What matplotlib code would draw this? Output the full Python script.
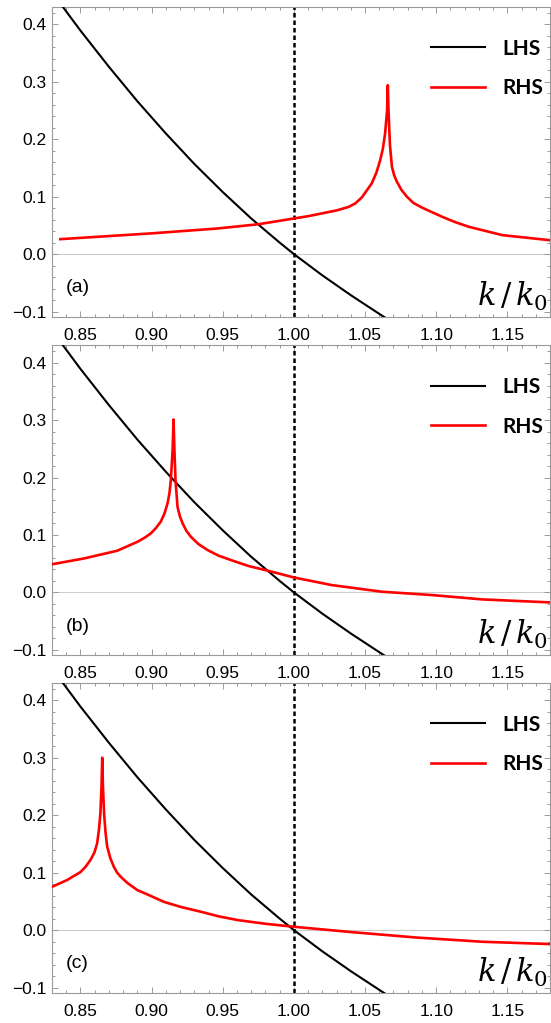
import matplotlib
matplotlib.use("Agg")
import matplotlib.pyplot as plt
from matplotlib.ticker import MultipleLocator, FuncFormatter
from matplotlib.font_manager import FontProperties

plt.rcParams["font.family"] = ["Liberation Sans", "DejaVu Sans"]
plt.rcParams["mathtext.fontset"] = "dejavuserif"

# LHS curve (same in all panels)
lhs_k = [0.8377, 0.85, 0.87, 0.89, 0.91, 0.93, 0.95, 0.97, 0.99, 1.00, 1.02, 1.04, 1.06, 1.065]
lhs_val = [0.430, 0.389, 0.326, 0.266, 0.210, 0.157, 0.108, 0.062, 0.020, 0.0, -0.037, -0.0715, -0.104, -0.112]

# RHS curves for panels (a), (b), (c)
rhs_a_k = [0.8358, 0.8994, 0.9465, 0.9751, 1.0, 1.01, 1.0194, 1.03, 1.0383, 1.043, 1.0477, 1.051,
           1.0547, 1.058, 1.0606, 1.0625, 1.0641, 1.0655, 1.066, 1.0665, 1.0675, 1.0689, 1.0705,
           1.0724, 1.0755, 1.0795, 1.084, 1.090, 1.097, 1.1042, 1.113, 1.123, 1.1465, 1.1795]
rhs_a_val = [0.026, 0.036, 0.0446, 0.052, 0.062, 0.066, 0.0707, 0.076, 0.082, 0.088, 0.0985, 0.110,
             0.123, 0.142, 0.163, 0.183, 0.21, 0.25, 0.294, 0.25, 0.19, 0.152, 0.137,
             0.126, 0.112, 0.0997, 0.089, 0.081, 0.073, 0.065, 0.056, 0.0475, 0.033, 0.0243]

rhs_b_k = [0.83, 0.8523, 0.8758, 0.890, 0.895, 0.8994, 0.903, 0.9064, 0.909, 0.9112, 0.9125, 0.9135,
           0.9148, 0.9154, 0.9160, 0.9168, 0.9182, 0.9198, 0.9218, 0.9245, 0.9276, 0.933, 0.9394,
           0.947, 0.9559, 0.968, 0.9818, 1.0, 1.0265, 1.0618, 1.097, 1.1324, 1.18]
rhs_b_val = [0.049, 0.059, 0.0725, 0.088, 0.095, 0.1026, 0.112, 0.123, 0.137, 0.155, 0.172, 0.195,
             0.25, 0.301, 0.25, 0.195, 0.149, 0.133, 0.12, 0.107, 0.0968, 0.084, 0.0736,
             0.064, 0.0562, 0.046, 0.0377, 0.026, 0.0128, 0.0012, -0.0046, -0.0122, -0.0174]

rhs_c_k = [0.83, 0.8405, 0.85, 0.8535, 0.857, 0.8598, 0.8617, 0.863, 0.864, 0.8648, 0.8653, 0.8658,
           0.8666, 0.8676, 0.8688, 0.871, 0.8735, 0.8755, 0.8782, 0.883, 0.890, 0.898, 0.9088,
           0.921, 0.9347, 0.947, 0.9606, 0.98, 1.0, 1.0383, 1.0853, 1.1324, 1.18]
rhs_c_val = [0.0754, 0.087, 0.101, 0.110, 0.122, 0.135, 0.151, 0.175, 0.203, 0.25, 0.300, 0.25,
             0.203, 0.17, 0.145, 0.125, 0.110, 0.101, 0.093, 0.082, 0.0696, 0.061, 0.049,
             0.040, 0.0319, 0.024, 0.0174, 0.011, 0.0058, -0.003, -0.0128, -0.0203, -0.0243]

panels = [("(a)", rhs_a_k, rhs_a_val), ("(b)", rhs_b_k, rhs_b_val), ("(c)", rhs_c_k, rhs_c_val)]
bottoms = [0.6904, 0.3597, 0.0296]

frame_col = "#9a9a9a"
legend_font = FontProperties(family="Lato", weight="bold", size=15)


def fmt_y(v, pos):
    return f"{v:.1f}".replace("-", "\u2212")


fig = plt.figure(figsize=(5.51, 10.23), dpi=100)

for (tag, rk, rv), b in zip(panels, bottoms):
    ax = fig.add_axes([0.0944, b, 0.9038, 0.3027])
    ax.axhline(0, color="#cccccc", lw=0.8, zorder=1)
    ax.axvline(1.0, color="black", lw=1.8, linestyle=(0, (1.8, 1.2)), zorder=2)
    ax.plot(lhs_k, lhs_val, color="black", lw=1.5, label="LHS", zorder=3)
    ax.plot(rk, rv, color="red", lw=1.9, label="RHS", zorder=4, solid_joinstyle="round")

    ax.set_xlim(0.83, 1.18)
    ax.set_ylim(-0.109, 0.43)
    ax.xaxis.set_major_locator(MultipleLocator(0.05))
    ax.xaxis.set_minor_locator(MultipleLocator(0.01))
    ax.yaxis.set_major_locator(MultipleLocator(0.1))
    ax.yaxis.set_minor_locator(MultipleLocator(0.02))
    ax.xaxis.set_major_formatter(FuncFormatter(lambda v, p: f"{v:.2f}"))
    ax.yaxis.set_major_formatter(FuncFormatter(fmt_y))

    for s in ax.spines.values():
        s.set_color(frame_col)
        s.set_linewidth(0.8)
    ax.tick_params(which="both", direction="in", top=True, right=True, color=frame_col, width=0.7)
    ax.tick_params(which="major", length=4.5, labelsize=12.5)
    ax.tick_params(which="minor", length=2.5)
    ax.tick_params(axis="x", pad=8)
    ax.tick_params(axis="y", pad=4)

    ax.text(0.027, 0.093, tag, transform=ax.transAxes, fontsize=14, va="center", ha="left")
    ax.text(0.996, 0.036, r"$k\,/\,k_0$", transform=ax.transAxes, fontsize=22, ha="right", va="baseline")

    ax.legend(loc="upper right", bbox_to_anchor=(0.986, 0.898), frameon=False, prop=legend_font,
              handlelength=2.6, handletextpad=0.8, labelspacing=0.95, borderaxespad=0, borderpad=0)

fig.savefig("out.png", dpi=100)
